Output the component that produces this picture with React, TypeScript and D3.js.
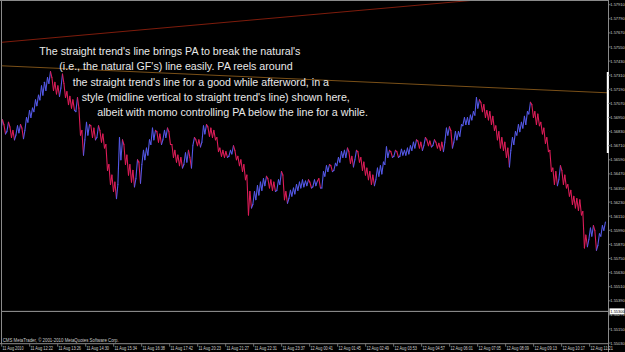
import React from 'react';
import * as d3 from 'd3';

const W = 625;
const H = 352;

// aggregated bars (each ~6.86 one-minute bars), prices
const highs = [
  1.5693, 1.5689, 1.5691, 1.5687, 1.5684, 1.5688, 1.5689, 1.5686, 1.5695, 1.5701,
  1.5703, 1.5710, 1.5714, 1.5722, 1.5725, 1.5729, 1.5734, 1.5729, 1.5725, 1.5722,
  1.5732, 1.5724, 1.5717, 1.5713, 1.5710, 1.5712, 1.5703, 1.5684, 1.5691, 1.5689,
  1.5688, 1.5686, 1.5688, 1.5684, 1.5681, 1.5672, 1.5655, 1.5646, 1.5640, 1.5678,
  1.5676, 1.5672, 1.5663, 1.5655, 1.5650, 1.5659, 1.5657, 1.5667, 1.5669, 1.5676,
  1.5686, 1.5684, 1.5683, 1.5681, 1.5684, 1.5686, 1.5683, 1.5672, 1.5667, 1.5663,
  1.5661, 1.5665, 1.5667, 1.5661, 1.5678, 1.5676, 1.5676, 1.5688, 1.5689, 1.5687,
  1.5686, 1.5684, 1.5678, 1.5669, 1.5667, 1.5666, 1.5667, 1.5671, 1.5667, 1.5662,
  1.5659, 1.5655, 1.5646, 1.5632, 1.5632, 1.5637, 1.5640, 1.5643, 1.5645, 1.5643,
  1.5642, 1.5640, 1.5642, 1.5649, 1.5646, 1.5632, 1.5633, 1.5635, 1.5638, 1.5640,
  1.5642, 1.5641, 1.5642, 1.5640, 1.5642, 1.5641, 1.5643, 1.5649, 1.5654, 1.5655,
  1.5654, 1.5656, 1.5661, 1.5666, 1.5667, 1.5669, 1.5666, 1.5662, 1.5667, 1.5666,
  1.5661, 1.5657, 1.5652, 1.5649, 1.5646, 1.5652, 1.5654, 1.5657, 1.5670, 1.5667,
  1.5666, 1.5667, 1.5666, 1.5668, 1.5667, 1.5669, 1.5671, 1.5674, 1.5676, 1.5675,
  1.5674, 1.5678, 1.5676, 1.5675, 1.5676, 1.5674, 1.5673, 1.5674, 1.5686, 1.5687,
  1.5684, 1.5683, 1.5683, 1.5689, 1.5695, 1.5695, 1.5697, 1.5700, 1.5712, 1.5710,
  1.5708, 1.5706, 1.5701, 1.5700, 1.5696, 1.5688, 1.5683, 1.5678, 1.5674, 1.5669,
  1.5678, 1.5683, 1.5689, 1.5691, 1.5696, 1.5700, 1.5708, 1.5706, 1.5700, 1.5698,
  1.5691, 1.5686, 1.5678, 1.5667, 1.5652, 1.5649, 1.5654, 1.5650, 1.5646, 1.5638,
  1.5633, 1.5628, 1.5626, 1.5625, 1.5615, 1.5595, 1.5601, 1.5603, 1.5599, 1.5596,
  1.5603, 1.5606,
];
const lows = [
  1.5684, 1.5681, 1.5683, 1.5678, 1.5676, 1.5680, 1.5682, 1.5677, 1.5684, 1.5691,
  1.5695, 1.5700, 1.5705, 1.5710, 1.5714, 1.5718, 1.5724, 1.5718, 1.5715, 1.5713,
  1.5720, 1.5712, 1.5706, 1.5703, 1.5701, 1.5700, 1.5680, 1.5663, 1.5676, 1.5680,
  1.5678, 1.5676, 1.5678, 1.5674, 1.5669, 1.5650, 1.5638, 1.5632, 1.5626, 1.5638,
  1.5659, 1.5655, 1.5646, 1.5640, 1.5636, 1.5643, 1.5639, 1.5655, 1.5659, 1.5663,
  1.5672, 1.5676, 1.5674, 1.5672, 1.5676, 1.5678, 1.5672, 1.5661, 1.5657, 1.5654,
  1.5652, 1.5655, 1.5657, 1.5652, 1.5671, 1.5671, 1.5670, 1.5674, 1.5681, 1.5679,
  1.5678, 1.5676, 1.5666, 1.5662, 1.5661, 1.5661, 1.5662, 1.5664, 1.5659, 1.5654,
  1.5649, 1.5642, 1.5612, 1.5618, 1.5621, 1.5625, 1.5629, 1.5633, 1.5637, 1.5635,
  1.5633, 1.5632, 1.5633, 1.5638, 1.5625, 1.5622, 1.5626, 1.5628, 1.5630, 1.5633,
  1.5635, 1.5636, 1.5637, 1.5635, 1.5636, 1.5637, 1.5635, 1.5635, 1.5645, 1.5649,
  1.5649, 1.5650, 1.5654, 1.5657, 1.5661, 1.5661, 1.5656, 1.5653, 1.5659, 1.5657,
  1.5650, 1.5646, 1.5642, 1.5638, 1.5637, 1.5642, 1.5645, 1.5647, 1.5655, 1.5661,
  1.5661, 1.5662, 1.5661, 1.5662, 1.5663, 1.5663, 1.5664, 1.5667, 1.5669, 1.5669,
  1.5667, 1.5671, 1.5671, 1.5670, 1.5671, 1.5669, 1.5667, 1.5666, 1.5674, 1.5680,
  1.5669, 1.5674, 1.5676, 1.5679, 1.5688, 1.5689, 1.5689, 1.5693, 1.5697, 1.5703,
  1.5700, 1.5695, 1.5693, 1.5689, 1.5684, 1.5676, 1.5669, 1.5667, 1.5661, 1.5653,
  1.5667, 1.5672, 1.5680, 1.5683, 1.5686, 1.5689, 1.5698, 1.5695, 1.5689, 1.5688,
  1.5681, 1.5673, 1.5666, 1.5649, 1.5638, 1.5637, 1.5642, 1.5638, 1.5635, 1.5628,
  1.5621, 1.5618, 1.5616, 1.5612, 1.5584, 1.5585, 1.5591, 1.5594, 1.5582, 1.5586,
  1.5594, 1.5599,
];

const BAR_MINUTES = 48 / 7; // one-minute bars per aggregated bar
const TOTAL_MINUTES = 1386;
const MINUTES_PER_LABEL = 64;

const priceLabels = [
  '1.57910', '1.57790', '1.57670', '1.57550', '1.57430', '1.57310', '1.57190',
  '1.57070', '1.56950', '1.56830', '1.56710', '1.56590', '1.56470', '1.56350',
  '1.56230', '1.56110', '1.55990', '1.55870', '1.55750', '1.55630', '1.55510',
  '1.55390', '1.55270', '1.55150', '1.55030',
];

const timeLabels = [
  '11 Aug 2010', '11 Aug 12:22', '11 Aug 13:26', '11 Aug 14:30', '11 Aug 15:34',
  '11 Aug 16:38', '11 Aug 17:42', '11 Aug 20:23', '11 Aug 21:27', '11 Aug 22:31',
  '11 Aug 23:37', '12 Aug 00:41', '12 Aug 01:45', '12 Aug 02:49', '12 Aug 03:53',
  '12 Aug 04:57', '12 Aug 06:01', '12 Aug 07:05', '12 Aug 08:09', '12 Aug 09:13',
  '12 Aug 10:17', '12 Aug 11:21',
];

const bidPrice = 1.553;
const bidLabel = '1.55300';

const trendStraight = [
  { minute: 0, price: 1.5759 },
  { minute: 1386, price: 1.5805 },
];
const trendNatural = [
  { minute: 0, price: 1.5739 },
  { minute: 1386, price: 1.5716 },
];

const noteLines = [
  "The straight trend's line brings PA to break the natural's",
  "(i.e., the natural GF's) line easily. PA reels around",
  "the straight trend's line for a good while afterword, in a",
  "style (midline vertical to straight trend's line) shown here,",
  'albeit with momo controlling PA below the line for a while.',
];
const noteX = [39.3, 59.3, 72.7, 81.7, 97.3];

const copyright = 'CMS MetaTrader, \u00A9 2001-2010 MetaQuotes Software Corp.';

// layout
const PLOT_LEFT = 1.7;
const PLOT_RIGHT = 608;
const PLOT_TOP = 1;
const PLOT_BOTTOM = 343.7;

const UP = '#5458e6';
const DOWN = '#dc1c58';
const FRAME = '#8a8a8a';
const LABEL = '#cfcfcf';

export default function App() {
  const x = d3.scaleLinear().domain([0, TOTAL_MINUTES]).range([PLOT_LEFT, PLOT_RIGHT]);
  const y = d3
    .scaleLinear()
    .domain([+priceLabels[priceLabels.length - 1], +priceLabels[0]])
    .range([343.1, 4.7]);

  const segs: { x1: number; y1: number; x2: number; y2: number; c: string }[] = [];
  let prev: [number, number] | null = null;
  let lastColor = UP;
  highs.forEach((h, i) => {
    const l = lows[i];
    const cx = x(i * BAR_MINUTES);
    let up = lastColor === UP;
    if (i > 0) {
      const m0 = highs[i - 1] + lows[i - 1];
      const m1 = h + l;
      if (m1 > m0) up = true;
      else if (m1 < m0) up = false;
    }
    const c = up ? UP : DOWN;
    lastColor = c;
    const p1: [number, number] = [cx - 0.8, up ? y(l) : y(h)];
    const p2: [number, number] = [cx + 0.8, up ? y(h) : y(l)];
    if (prev) segs.push({ x1: prev[0], y1: prev[1], x2: p1[0], y2: p1[1], c });
    segs.push({ x1: p1[0], y1: p1[1], x2: p2[0], y2: p2[1], c });
    prev = p2;
  });

  const trendPath = d3
    .line<{ minute: number; price: number }>()
    .x((d) => x(d.minute))
    .y((d) => y(d.price));

  const smallFont = "'Liberation Sans', Arial, sans-serif";

  return (
    <div style={{ position: 'fixed', left: 0, top: 0, width: W, height: H, background: '#000' }}>
      <svg width={W} height={H} style={{ display: 'block' }}>
        <defs>
          <clipPath id="plot">
            <rect x={PLOT_LEFT} y={PLOT_TOP} width={PLOT_RIGHT - PLOT_LEFT} height={PLOT_BOTTOM - PLOT_TOP} />
          </clipPath>
        </defs>
        <rect x={0} y={0} width={W} height={H} fill="#000" />

        {/* frame */}
        <line x1={0} x2={PLOT_RIGHT} y1={0.5} y2={0.5} stroke={FRAME} strokeWidth={1} />
        <line x1={1.5} x2={1.5} y1={0} y2={PLOT_BOTTOM} stroke={FRAME} strokeWidth={1} />
        <line x1={PLOT_RIGHT + 0.5} x2={PLOT_RIGHT + 0.5} y1={0} y2={H} stroke={FRAME} strokeWidth={1} />
        <line x1={0} x2={PLOT_RIGHT} y1={PLOT_BOTTOM} y2={PLOT_BOTTOM} stroke={FRAME} strokeWidth={1} />

        <g clipPath="url(#plot)">
          {/* bid line */}
          <line x1={PLOT_LEFT} x2={PLOT_RIGHT} y1={y(bidPrice)} y2={y(bidPrice)} stroke="#9a9a9a" strokeWidth={1} />
          <path d={trendPath(trendStraight) || ''} stroke="#7e1c0c" strokeWidth={1} fill="none" />
          <path d={trendPath(trendNatural) || ''} stroke="#7a5018" strokeWidth={1} fill="none" />
          {segs.map((s, i) => (
            <line key={i} x1={s.x1} y1={s.y1} x2={s.x2} y2={s.y2} stroke={s.c} strokeWidth={1.1} strokeLinecap="round" />
          ))}
        </g>

        {/* annotation */}
        {noteLines.map((t, i) => (
          <text
            key={i}
            x={noteX[i]}
            y={55 + i * 15.25}
            fill="#e8e8e8"
            fontFamily="'Liberation Sans', Arial, sans-serif"
            fontSize={10.7}
          >
            {t}
          </text>
        ))}

        {/* white range bar on price scale */}
        <rect x={606.8} y={72} width={2} height={81} fill="#ffffff" />

        {/* price axis */}
        {priceLabels.map((p) => {
          const yy = y(+p);
          return (
            <g key={p}>
              <line x1={PLOT_RIGHT} x2={PLOT_RIGHT + 2.5} y1={yy} y2={yy} stroke={FRAME} strokeWidth={0.8} />
              <text x={610.3} y={yy + 1.5} fill={LABEL} fontFamily={smallFont} fontSize={4}>
                {p}
              </text>
            </g>
          );
        })}
        <rect x={609.5} y={y(bidPrice) - 3} width={15} height={6} fill="#ffffff" />
        <text x={610.3} y={y(bidPrice) + 1.5} fill="#000" fontFamily={smallFont} fontSize={4}>
          {bidLabel}
        </text>

        {/* time axis */}
        {timeLabels.map((t, k) => {
          const xx = x(k * MINUTES_PER_LABEL);
          return (
            <g key={t}>
              <line x1={xx} x2={xx} y1={PLOT_BOTTOM} y2={PLOT_BOTTOM + 3} stroke={FRAME} strokeWidth={0.8} />
              <text
                x={xx + 0.8}
                y={349.5}
                fill={LABEL}
                fontFamily={smallFont}
                fontSize={4.7}
                textLength={k === 0 ? 21 : 22.5}
                lengthAdjust="spacingAndGlyphs"
              >
                {t}
              </text>
            </g>
          );
        })}

        <text x={2.7} y={342} fill={LABEL} fontFamily={smallFont} fontSize={4.7} textLength={116} lengthAdjust="spacingAndGlyphs">
          {copyright}
        </text>
      </svg>
    </div>
  );
}
